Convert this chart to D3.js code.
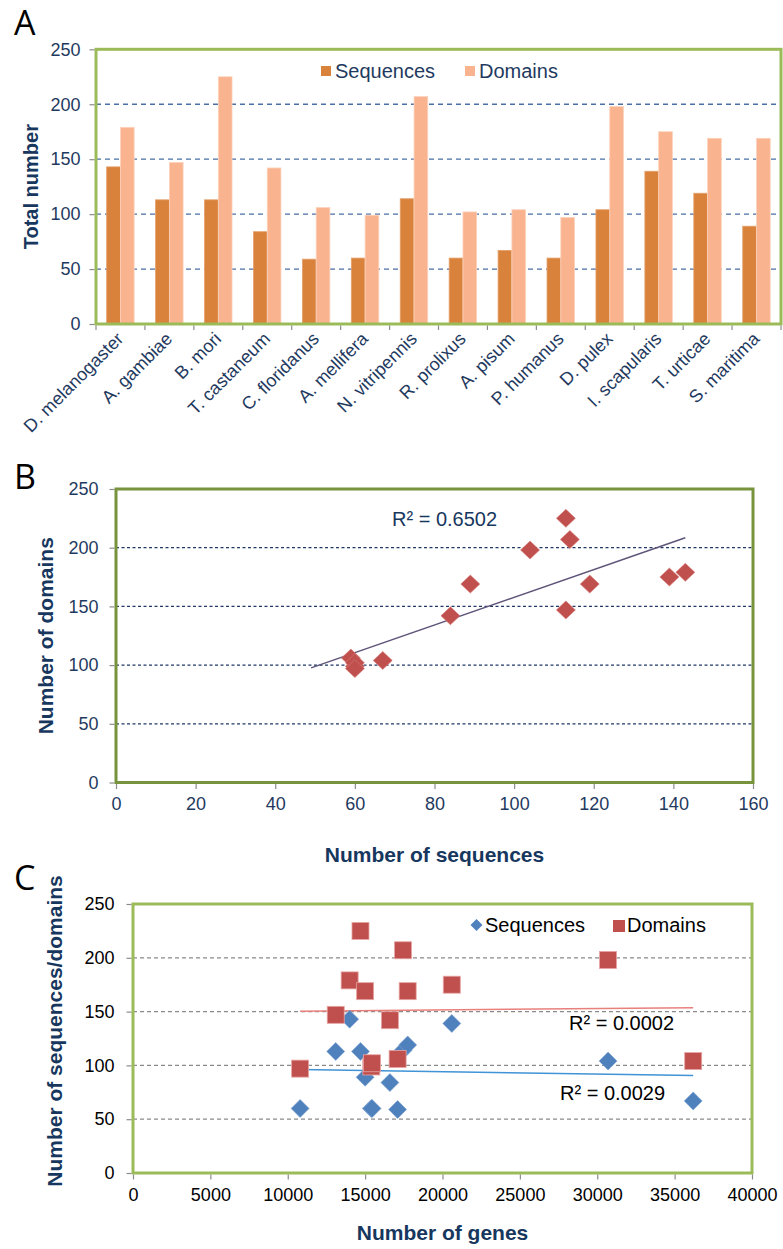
<!DOCTYPE html>
<html><head><meta charset="utf-8">
<script src="https://cdn.jsdelivr.net/npm/d3@7"></script>
<style>
body{margin:0;background:#fff}
svg{display:block;font-family:"Liberation Sans",Arial,sans-serif}
</style>
</head><body>
<svg id="chart" width="783" height="1249"></svg>
<script>
// ---------- DATA ----------
const species = ["D. melanogaster","A. gambiae","B. mori","T. castaneum","C. floridanus","A. mellifera","N. vitripennis","R. prolixus","A. pisum","P. humanus","D. pulex","I. scapularis","T. urticae","S. maritima"];
const sequences = [143,113,113,84,59,60,114,60,67,60,104,139,119,89];
const domains   = [179,147,225,142,106,99,207,102,104,97,198,175,169,169];
const genes     = [14000,13100,14700,16600,17100,15400,17450,15450,36200,10800,30700,20600,17750,15000];
const yTicksA = [0,50,100,150,200,250];
const yTicksB = [0,50,100,150,200,250];
const xTicksB = [0,20,40,60,80,100,120,140,160];
const yTicksC = [0,50,100,150,200,250];
const xTicksC = [0,5000,10000,15000,20000,25000,30000,35000,40000];
const seriesNames = ["Sequences","Domains"];
const trendStartB = 49;
const r2B = "R² = 0.6502";
const r2CDom = "R² = 0.0002";
const r2CSeq = "R² = 0.0029";

// ---------- STYLE ----------
const C_SEQ_BAR = "#d9823c", C_DOM_BAR = "#f9b38e";
const C_RED = "#c0504d", C_BLUE = "#4f81bd";
const NAVY = "#1f3a60", TITLE = "#17375e";
const svg = d3.select("#chart");

function linreg(xs, ys){
  const n=xs.length, mx=d3.mean(xs), my=d3.mean(ys);
  let sxy=0,sxx=0; for(let i=0;i<n;i++){sxy+=(xs[i]-mx)*(ys[i]-my); sxx+=(xs[i]-mx)**2;}
  const b=sxy/sxx; return {b, a:my-b*mx};
}
function diamond(w,h){return `M0,${-h}L${w},0L0,${h}L${-w},0Z`;}
function styleAxis(g, color, size){
  g.select(".domain").remove();
  g.selectAll(".tick line").attr("stroke","#8c8c8c").attr("stroke-width",1.2);
  g.selectAll(".tick text").attr("fill",color).style("font-size",size+"px");
}

// ================= PANEL A =================
{
  const L=96,R=781,T=49.3,B=324;
  const x = d3.scaleBand().domain(species).range([L,R]).paddingInner(0).paddingOuter(0);
  const y = d3.scaleLinear().domain([0,250]).range([B,T]);
  const bw = x.bandwidth();
  svg.append("text").attr("x",14).attr("y",35).text("A")
    .style("font-family","'Open Sans',sans-serif").style("font-size","34px").attr("fill","#000");
  svg.append("g").selectAll("line").data(yTicksA.filter(d=>d>0&&d<250)).join("line")
    .attr("x1",L).attr("x2",R).attr("y1",d=>y(d)).attr("y2",d=>y(d))
    .attr("stroke","#4a6fa5").attr("stroke-width",1.3).attr("stroke-dasharray","5,4");
  const g = svg.append("g");
  g.selectAll(".s").data(species).join("rect")
    .attr("x",d=>x(d)+bw*0.218).attr("width",bw*0.28)
    .attr("y",(d,i)=>y(sequences[i])).attr("height",(d,i)=>B-y(sequences[i]))
    .attr("fill",C_SEQ_BAR).attr("stroke","#e5a06a").attr("stroke-width",0.8);
  g.selectAll(".d").data(species).join("rect")
    .attr("x",d=>x(d)+bw*0.5).attr("width",bw*0.28)
    .attr("y",(d,i)=>y(domains[i])).attr("height",(d,i)=>B-y(domains[i]))
    .attr("fill",C_DOM_BAR).attr("stroke","#fcd3bd").attr("stroke-width",0.8);
  svg.append("rect").attr("x",L).attr("y",T).attr("width",R-L).attr("height",B-T)
    .attr("fill","none").attr("stroke","#9bbb59").attr("stroke-width",3);
  const ya = svg.append("g").attr("transform",`translate(${L-1.5},0)`)
    .call(d3.axisLeft(y).tickValues(yTicksA).tickSize(5).tickPadding(9));
  styleAxis(ya, NAVY, 18);
  const bounds = d3.range(species.length+1).map(i=>L+i*bw);
  svg.append("g").selectAll("line").data(bounds).join("line")
    .attr("x1",d=>d).attr("x2",d=>d).attr("y1",B+1.5).attr("y2",B+6)
    .attr("stroke","#8c8c8c").attr("stroke-width",1.2);
  svg.append("g").selectAll("text").data(species).join("text")
    .attr("transform",d=>`translate(${x(d)+bw/2+4},${B+16}) rotate(-45)`)
    .attr("text-anchor","end").attr("fill",NAVY).style("font-size","18px")
    .text(d=>d);
  svg.append("text").attr("transform",`translate(38,${(T+B)/2}) rotate(-90)`)
    .attr("text-anchor","middle").attr("fill",TITLE).style("font-size","20px").style("font-weight","bold")
    .text("Total number");
  const lg = svg.append("g");
  const lx = [321, 465];
  [C_SEQ_BAR, C_DOM_BAR].forEach((c,i)=>{
    lg.append("rect").attr("x",lx[i]).attr("y",66).attr("width",10).attr("height",10).attr("fill",c);
    lg.append("text").attr("x",lx[i]+14).attr("y",78).attr("fill",NAVY).style("font-size","20px").text(seriesNames[i]);
  });
}

// ================= PANEL B =================
{
  const L=116,R=753,T=489,B=782.5;
  const x = d3.scaleLinear().domain([0,160]).range([L,R]);
  const y = d3.scaleLinear().domain([0,250]).range([B,T]);
  svg.append("text").attr("x",14).attr("y",489).text("B")
    .style("font-family","'Open Sans',sans-serif").style("font-size","34px").attr("fill","#000");
  svg.append("g").selectAll("line").data(yTicksB.filter(d=>d>0&&d<250)).join("line")
    .attr("x1",L).attr("x2",R).attr("y1",d=>y(d)).attr("y2",d=>y(d))
    .attr("stroke","#1f3864").attr("stroke-width",1.3).attr("stroke-dasharray","3,2.5");
  svg.append("rect").attr("x",L).attr("y",T).attr("width",R-L).attr("height",B-T)
    .attr("fill","none").attr("stroke","#77933c").attr("stroke-width",3);
  const ya = svg.append("g").attr("transform",`translate(${L-1.5},0)`)
    .call(d3.axisLeft(y).tickValues(yTicksB).tickSize(5).tickPadding(11));
  styleAxis(ya, NAVY, 18);
  const xa = svg.append("g").attr("transform",`translate(0,${B+1.5})`)
    .call(d3.axisBottom(x).tickValues(xTicksB).tickSize(5).tickPadding(8));
  styleAxis(xa, NAVY, 18);
  const lr = linreg(sequences, domains);
  const xmax = d3.max(sequences);
  svg.append("line").attr("x1",x(trendStartB)).attr("y1",y(lr.a+lr.b*trendStartB))
    .attr("x2",x(xmax)).attr("y2",y(lr.a+lr.b*xmax))
    .attr("stroke","#5e5479").attr("stroke-width",1.5);
  svg.append("g").selectAll("path").data(sequences).join("path")
    .attr("d",diamond(9.5,9)).attr("transform",(d,i)=>`translate(${x(d)},${y(domains[i])})`)
    .attr("fill",C_RED).attr("stroke","#d77b78").attr("stroke-width",0.6);
  svg.append("text").attr("x",392).attr("y",526).attr("fill",TITLE).style("font-size","20px").text(r2B);
  svg.append("text").attr("transform",`translate(53,${(T+B)/2}) rotate(-90)`)
    .attr("text-anchor","middle").attr("fill",TITLE).style("font-size","21px").style("font-weight","bold")
    .text("Number of domains");
  svg.append("text").attr("x",(L+R)/2).attr("y",862)
    .attr("text-anchor","middle").attr("fill",TITLE).style("font-size","21px").style("font-weight","bold")
    .text("Number of sequences");
}

// ================= PANEL C =================
{
  const L=133,R=752,T=904,B=1173;
  const x = d3.scaleLinear().domain([0,40000]).range([L,R]);
  const y = d3.scaleLinear().domain([0,250]).range([B,T]);
  svg.append("text").attr("x",14).attr("y",890).text("C")
    .style("font-family","'Open Sans',sans-serif").style("font-size","34px").attr("fill","#000");
  svg.append("g").selectAll("line").data(yTicksC.filter(d=>d>0&&d<250)).join("line")
    .attr("x1",L).attr("x2",R).attr("y1",d=>y(d)).attr("y2",d=>y(d))
    .attr("stroke","#8a8a8a").attr("stroke-width",1.2).attr("stroke-dasharray","4,3");
  svg.append("rect").attr("x",L).attr("y",T).attr("width",R-L).attr("height",B-T)
    .attr("fill","none").attr("stroke","#9bbb59").attr("stroke-width",3);
  const ya = svg.append("g").attr("transform",`translate(${L-1.5},0)`)
    .call(d3.axisLeft(y).tickValues(yTicksC).tickSize(5).tickPadding(12));
  styleAxis(ya, "#000", 18);
  const xa = svg.append("g").attr("transform",`translate(0,${B+1.5})`)
    .call(d3.axisBottom(x).tickValues(xTicksC).tickSize(5).tickPadding(9).tickFormat(d3.format("d")));
  styleAxis(xa, "#000", 18);
  const gmin = d3.min(genes), gmax = d3.max(genes);
  const lrD = linreg(genes, domains), lrS = linreg(genes, sequences);
  svg.append("line").attr("x1",x(gmin)).attr("y1",y(lrD.a+lrD.b*gmin)).attr("x2",x(gmax)).attr("y2",y(lrD.a+lrD.b*gmax))
    .attr("stroke","#e8807c").attr("stroke-width",1.5);
  svg.append("line").attr("x1",x(gmin)).attr("y1",y(lrS.a+lrS.b*gmin)).attr("x2",x(gmax)).attr("y2",y(lrS.a+lrS.b*gmax))
    .attr("stroke","#3f93d6").attr("stroke-width",1.5);
  svg.append("g").selectAll("path").data(genes).join("path")
    .attr("d",diamond(9,9)).attr("transform",(d,i)=>`translate(${x(d)},${y(sequences[i])})`)
    .attr("fill",C_BLUE).attr("stroke","#7fa3d3").attr("stroke-width",0.6);
  svg.append("g").selectAll("rect").data(genes).join("rect")
    .attr("x",d=>x(d)-8.5).attr("width",17).attr("y",(d,i)=>y(domains[i])-8.5).attr("height",17)
    .attr("fill",C_RED).attr("stroke","#e7a5a3").attr("stroke-width",0.8);
  svg.append("text").attr("x",569).attr("y",1030).attr("fill","#000").style("font-size","20px").text(r2CDom);
  svg.append("text").attr("x",560).attr("y",1100).attr("fill","#000").style("font-size","20px").text(r2CSeq);
  svg.append("path").attr("d",diamond(6,6)).attr("transform","translate(476.5,925)").attr("fill",C_BLUE);
  svg.append("text").attr("x",485).attr("y",932).attr("fill","#000").style("font-size","20px").text(seriesNames[0]);
  svg.append("rect").attr("x",613).attr("y",920).attr("width",12).attr("height",12).attr("fill",C_RED);
  svg.append("text").attr("x",627).attr("y",932).attr("fill","#000").style("font-size","20px").text(seriesNames[1]);
  svg.append("text").attr("transform",`translate(62,1031) rotate(-90)`)
    .attr("text-anchor","middle").attr("fill",TITLE).style("font-size","21px").style("font-weight","bold")
    .text("Number of sequences/domains");
  svg.append("text").attr("x",(L+R)/2).attr("y",1240)
    .attr("text-anchor","middle").attr("fill",TITLE).style("font-size","21px").style("font-weight","bold")
    .text("Number of genes");
}
</script>
</body></html>
